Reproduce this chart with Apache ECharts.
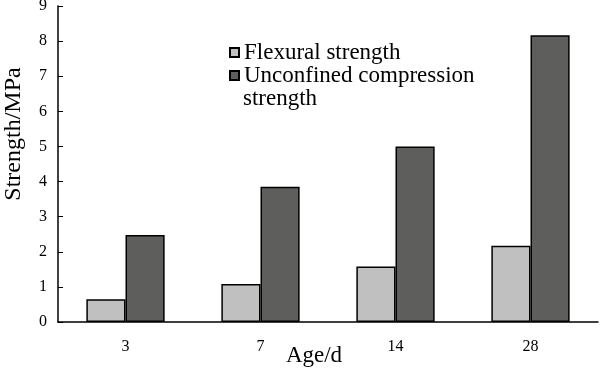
<!DOCTYPE html>
<html><head><meta charset="utf-8">
<script src="https://cdn.jsdelivr.net/npm/echarts@6/dist/echarts.min.js"></script>
<style>html,body{margin:0;padding:0;background:#fff}#c{width:600px;height:369px}</style>
</head><body><div id="c"></div>
<script>
var categories = ['3', '7', '14', '28'];
var flexural = [0.65, 1.08, 1.58, 2.17];
var compression = [2.48, 3.85, 5.0, 8.17];
var yTicks = [0, 1, 2, 3, 4, 5, 6, 7, 8, 9];
var seriesNames = ['Flexural strength', 'Unconfined compression strength'];

var font = 'Liberation Serif, Times New Roman, serif';
var chart = echarts.init(document.getElementById('c'));
chart.setOption({
  animation: false,
  backgroundColor: '#fff',
  grid: {left: 58, right: 2, top: 6, bottom: 47, containLabel: false, outerBoundsMode: 'none'},
  legend: {
    orient: 'vertical', left: 229, top: 41, padding: 0,
    itemWidth: 9, itemHeight: 9, itemGap: 0,
    icon: 'rect',
    textStyle: {fontFamily: font, fontSize: 23, color: '#000', lineHeight: 23},
    formatter: function (n) { return n === seriesNames[1] ? 'Unconfined compression' : n; },
    data: seriesNames
  },
  graphic: [{
    type: 'text', left: 243, top: 87,
    style: {text: 'strength', fontFamily: font, fontSize: 23, fill: '#000'}
  }],
  xAxis: {
    type: 'category', data: categories,
    name: 'Age/d', nameLocation: 'middle', nameGap: 22, nameMoveOverlap: false,
    nameTextStyle: {fontFamily: font, fontSize: 23, color: '#000', padding: [0, 28, 0, 0]},
    axisLine: {lineStyle: {color: '#000', width: 1.5}},
    axisTick: {inside: true, length: 4, lineStyle: {color: '#000'}},
    axisLabel: {fontFamily: font, fontSize: 16, color: '#000', margin: 17}
  },
  yAxis: {
    type: 'value', min: 0, max: 9, interval: 1,
    name: 'Strength/MPa', nameLocation: 'middle', nameGap: 32, nameMoveOverlap: false,
    nameTextStyle: {fontFamily: font, fontSize: 24, color: '#000', padding: [0, 0, 0, 60]},
    axisLine: {show: true, lineStyle: {color: '#000', width: 1.5}},
    axisTick: {show: true, inside: true, length: 5, lineStyle: {color: '#000'}},
    axisLabel: {fontFamily: font, fontSize: 16, color: '#000', margin: 11,
      formatter: function (v) { return yTicks.indexOf(v) >= 0 ? String(v) : ''; }},
    splitLine: {show: false}
  },
  series: [
    {name: seriesNames[0], type: 'bar', data: flexural, barWidth: '29%', barGap: '0%',
     itemStyle: {color: '#c0c0c0', borderColor: '#000', borderWidth: 1.5}},
    {name: seriesNames[1], type: 'bar', data: compression, barWidth: '29%', barGap: '0%',
     itemStyle: {color: '#5e5f5d', borderColor: '#000', borderWidth: 1.5}}
  ]
});
</script></body></html>
